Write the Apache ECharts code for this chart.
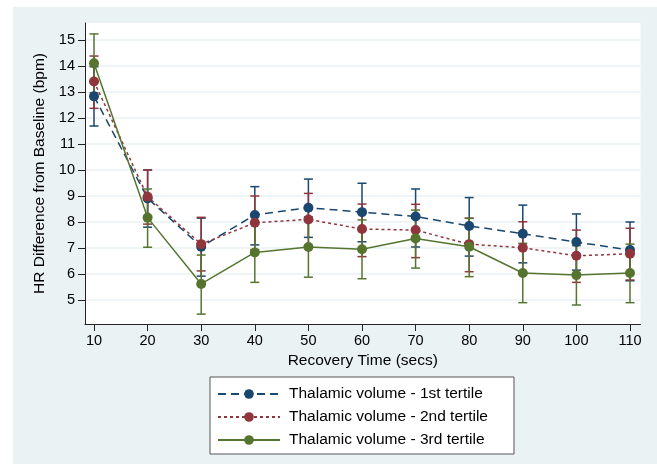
<!DOCTYPE html>
<html>
<head>
<meta charset="utf-8">
<script src="https://cdn.jsdelivr.net/npm/echarts@6/dist/echarts.min.js"></script>
<style>html,body{margin:0;padding:0;background:#fff;}#c{width:657px;height:464px;}</style>
</head>
<body>
<div id="c"></div>
<script>
var times = [10, 20, 30, 40, 50, 60, 70, 80, 90, 100, 110];
var yTicks = [5, 6, 7, 8, 9, 10, 11, 12, 13, 14, 15];
var seriesNames = ['Thalamic volume - 1st tertile', 'Thalamic volume - 2nd tertile', 'Thalamic volume - 3rd tertile'];

var t1Mean = [12.83, 8.91, 7.05, 8.27, 8.55, 8.38, 8.21, 7.85, 7.55, 7.23, 6.92];
var t1Hi   = [13.97, 10.00, 8.15, 9.36, 9.65, 9.49, 9.27, 8.94, 8.65, 8.31, 8.00];
var t1Lo   = [11.69, 7.80, 5.92, 7.12, 7.41, 7.24, 7.04, 6.69, 6.43, 6.15, 5.74];

var t2Mean = [13.40, 8.97, 7.15, 7.97, 8.10, 7.73, 7.69, 7.15, 7.01, 6.70, 6.78];
var t2Hi   = [14.38, 10.00, 8.18, 9.00, 9.10, 8.69, 8.68, 8.15, 8.01, 7.69, 7.76];
var t2Lo   = [12.37, 7.92, 6.12, 6.94, 7.10, 6.67, 6.63, 6.09, 6.00, 5.68, 5.77];

var t3Mean = [14.10, 8.17, 5.62, 6.83, 7.04, 6.95, 7.37, 7.05, 6.04, 5.96, 6.04];
var t3Hi   = [15.23, 9.27, 6.73, 7.98, 8.20, 8.08, 8.46, 8.14, 7.18, 7.09, 7.15];
var t3Lo   = [12.97, 7.03, 4.46, 5.68, 5.88, 5.82, 6.23, 5.90, 4.90, 4.81, 4.90];

var colors = ['#1A476F', '#90353B', '#55752F'];
var dashes = [[8, 5], [3, 3], 'solid'];
var FONT = '"Liberation Sans", Arial, Helvetica, sans-serif';

function pairs(m) { return times.map(function (t, i) { return [t, m[i]]; }); }
function triples(lo, hi) { return times.map(function (t, i) { return [t, lo[i], hi[i]]; }); }

function errSeries(lo, hi, color) {
  return {
    type: 'custom',
    z: 2,
    silent: true,
    data: triples(lo, hi),
    renderItem: function (params, api) {
      var x = api.value(0);
      var pLo = api.coord([x, api.value(1)]);
      var pHi = api.coord([x, api.value(2)]);
      var w = 4.5;
      var st = { stroke: color, lineWidth: 1.5 };
      return {
        type: 'group',
        children: [
          { type: 'line', shape: { x1: pLo[0], y1: pLo[1], x2: pHi[0], y2: pHi[1] }, style: st },
          { type: 'line', shape: { x1: pLo[0] - w, y1: pLo[1], x2: pLo[0] + w, y2: pLo[1] }, style: st },
          { type: 'line', shape: { x1: pHi[0] - w, y1: pHi[1], x2: pHi[0] + w, y2: pHi[1] }, style: st }
        ]
      };
    }
  };
}

function lineSeries(name, m, idx) {
  return {
    name: name,
    type: 'line',
    z: 3,
    data: pairs(m),
    symbol: 'circle',
    symbolSize: 10,
    showSymbol: true,
    itemStyle: { color: colors[idx] },
    lineStyle: { color: colors[idx], width: 1.5, type: dashes[idx] },
    animation: false
  };
}

var chart = echarts.init(document.getElementById('c'), null, { renderer: 'canvas' });
chart.setOption({
  animation: false,
  textStyle: { fontFamily: FONT, color: '#000' },
  graphic: [{
    type: 'rect', z: -10, silent: true,
    shape: { x: 13, y: 7, width: 644, height: 457 },
    style: { fill: '#EAF2F3' }
  }],
  grid: {
    left: 85, right: 16.5, top: 23, bottom: 140,
    show: true, backgroundColor: '#ffffff', borderWidth: 0
  },
  xAxis: {
    type: 'value',
    min: 8.32, max: 111.96,
    name: 'Recovery Time (secs)',
    nameLocation: 'middle',
    nameGap: 28,
    nameTextStyle: { fontSize: 15.5, color: '#000', fontFamily: FONT },
    axisLine: { show: true, onZero: false, lineStyle: { color: '#222', width: 1 } },
    axisTick: { show: true, length: 7, customValues: times, lineStyle: { color: '#222' } },
    axisLabel: { customValues: times, fontSize: 14.5, color: '#000', margin: 9, fontFamily: FONT },
    splitLine: { show: false }
  },
  yAxis: {
    type: 'value',
    min: 4.08, max: 15.65,
    name: 'HR Difference from Baseline (bpm)',
    nameLocation: 'middle',
    nameGap: 35,
    nameTextStyle: { fontSize: 15.5, color: '#000', fontFamily: FONT },
    axisLine: { show: true, onZero: false, lineStyle: { color: '#222', width: 1 } },
    axisTick: { show: true, length: 7, customValues: yTicks, lineStyle: { color: '#222' } },
    axisLabel: { customValues: yTicks, fontSize: 14.5, color: '#000', margin: 10, fontFamily: FONT },
    splitLine: { show: true, lineStyle: { color: '#EAF2F3', width: 1.5 } }
  },
  legend: {
    data: seriesNames,
    orient: 'vertical',
    left: 210, top: 377,
    padding: [9, 26, 6, 7],
    itemGap: 7,
    itemWidth: 62,
    itemHeight: 12,
    backgroundColor: '#ffffff',
    borderColor: '#555',
    borderWidth: 1,
    borderRadius: 0,
    textStyle: { fontSize: 15.5, color: '#000', fontFamily: FONT, padding: [0, 0, 0, 4] }
  },
  series: [
    errSeries(t1Lo, t1Hi, colors[0]),
    errSeries(t2Lo, t2Hi, colors[1]),
    errSeries(t3Lo, t3Hi, colors[2]),
    lineSeries(seriesNames[0], t1Mean, 0),
    lineSeries(seriesNames[1], t2Mean, 1),
    lineSeries(seriesNames[2], t3Mean, 2)
  ]
});
</script>
</body>
</html>
